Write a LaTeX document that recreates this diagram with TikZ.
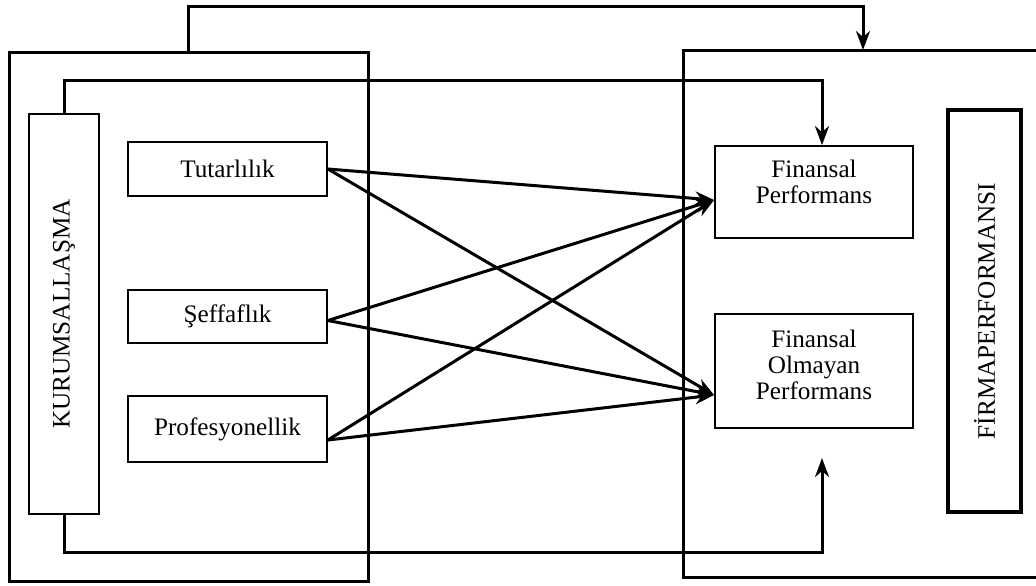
\documentclass[tikz,border=0pt]{standalone}
\usepackage{fontspec}
\setmainfont{Liberation Serif}
\usetikzlibrary{arrows.meta,positioning}

\begin{document}
\begin{tikzpicture}[x=0.5pt,y=-0.5pt,
    box/.style={draw,line width=0.9pt,minimum width=99.5pt,align=center,
      inner sep=0pt,font=\fontsize{12.6}{13}\selectfont},
    tall/.style={draw,inner sep=0pt,rotate=90,font=\fontsize{12.6}{13}\selectfont},
    wire/.style={line width=1.5pt},
    arr/.style={wire,-{Stealth[length=9.5pt,width=7pt,inset=3pt]}}]
  \useasboundingbox (0,0) rectangle (1036,585);
  % outer frames
  \node[draw,line width=1.5pt,minimum width=179.5pt,minimum height=264.5pt] (outL) at (188.5,316.5) {};
  \draw[wire] (1036,50) -| (683,577) -- (1036,577);
  \coordinate (rtop) at (863,50);
  % left side
  \node[tall,line width=1pt,minimum width=200pt,minimum height=35pt] (kur) at (64,314) {KURUMSALLAŞMA};
  \node[box,minimum height=27pt] (tut) at (227.5,169) {Tutarlılık};
  \node[box,minimum height=26.5pt] (sef) at (227.5,316.5) {Şeffaflık};
  \node[box,minimum height=33pt] (pro) at (227.5,429) {Profesyonellik};
  % right side
  \node[box,minimum width=99pt,minimum height=46pt] (fp) at (814,192) {Finansal\\Performans\\[-3pt]};
  \node[box,minimum width=99pt,minimum height=57pt] (fop) at (814,371) {Finansal\\Olmayan\\Performans\\[-7pt]};
  \node[tall,line width=2.2pt,minimum width=201pt,minimum height=36.5pt] (firma) at (984.5,311) {FİRMAPERFORMANSI};
  \coordinate (fpin) at ([yshift=-4pt]fp.west);
  \coordinate (fopin) at ([yshift=-12pt]fop.west);
  \coordinate (fopbot) at (822,458);
  % connectors
  \draw[arr] (outL.north) |- (500,6) -| (rtop);
  \draw[arr] (kur.east) |- (500,80) -| ([xshift=4pt]fp.north);
  \draw[arr] (kur.west) |- (500,552) -| (fopbot);
  \foreach \s/\d in {tut/0,sef/-2,pro/-5.5}{
    \draw[arr] ([yshift=\d pt]\s.east) -- (fpin);
    \draw[arr] ([yshift=\d pt]\s.east) -- (fopin);
  }
\end{tikzpicture}
\end{document}
